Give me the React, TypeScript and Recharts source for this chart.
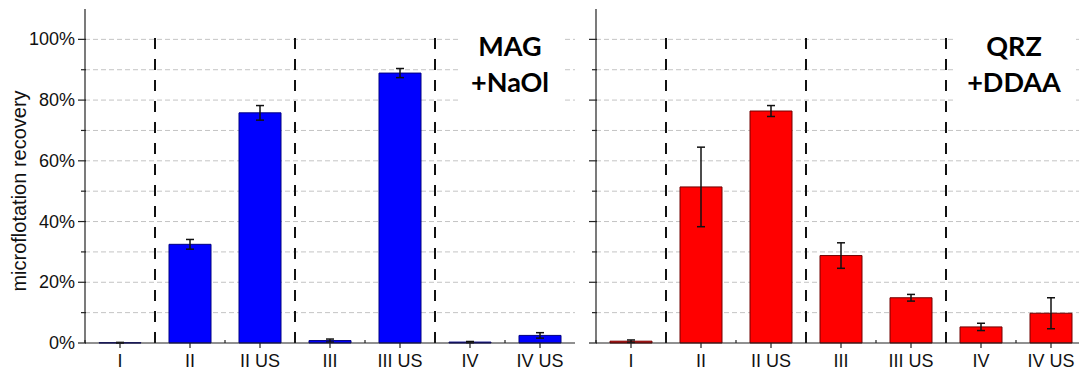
import { BarChart, Bar, XAxis, YAxis, CartesianGrid, ReferenceLine, ErrorBar } from "recharts";

const categories = ["I", "II", "II US", "III", "III US", "IV", "IV US"];

// MAG + NaOl (blue)
const magRecovery = [0.1, 32.5, 75.8, 0.8, 88.9, 0.3, 2.5];
const magError = [0.1, 1.6, 2.4, 0.5, 1.5, 0.2, 0.9];

// QRZ + DDAA (red)
const qrzRecovery = [0.6, 51.4, 76.4, 28.8, 14.9, 5.3, 9.8];
const qrzError = [0.4, 13.1, 1.8, 4.2, 1.1, 1.2, 5.1];

const yTicks = [0, 10, 20, 30, 40, 50, 60, 70, 80, 90, 100];
const gridValues = [10, 20, 30, 40, 50, 60, 70, 80, 90, 100];
const separators = ["II", "III", "IV"];

const FONT = '"Liberation Sans", Arial, sans-serif';
const AXIS = "#222";

function buildRows(values: number[], errors: number[]) {
  return categories.map((cat, i) => ({ cat, value: values[i], err: errors[i] }));
}

function BottomTick(props: any) {
  const { x, y, payload } = props;
  const half = payload.offset || 35;
  return (
    <g>
      <line x1={x} y1={y} x2={x} y2={y + 5} stroke={AXIS} strokeWidth={1.2} />
      <line x1={x - half} y1={y} x2={x - half} y2={y - 3} stroke={AXIS} strokeWidth={1.2} />
      <text x={x} y={y + 24} textAnchor="middle" fontSize={18} fontFamily={FONT} fill="#111">
        {payload.value}
      </text>
    </g>
  );
}

function TopTick(props: any) {
  const { x, y, payload } = props;
  const half = payload.offset || 35;
  return (
    <g>
      <line x1={x} y1={y} x2={x} y2={y + 6} stroke={AXIS} strokeWidth={1.2} />
      <line x1={x - half} y1={y} x2={x - half} y2={y + 3} stroke={AXIS} strokeWidth={1.2} />
    </g>
  );
}

function makeLeftTick(showLabel: boolean) {
  return (props: any) => {
    const { x, y, payload } = props;
    const major = payload.value % 20 === 0;
    return (
      <g>
        <line x1={x - (major ? 7 : 4)} y1={y} x2={x + 1} y2={y} stroke={AXIS} strokeWidth={1.2} />
        {showLabel && major && (
          <text x={x - 10} y={y} dy={6} textAnchor="end" fontSize={18} fontFamily={FONT} fill="#111">
            {payload.value}%
          </text>
        )}
      </g>
    );
  };
}

function RightTick(props: any) {
  const { x, y, payload } = props;
  const major = payload.value % 20 === 0;
  return <line x1={x - (major ? 7 : 4)} y1={y} x2={x} y2={y} stroke={AXIS} strokeWidth={1.2} />;
}

function AxisTitle() {
  return (
    <text
      transform="translate(19,191) rotate(-90)"
      textAnchor="middle"
      dominantBaseline="central"
      fontSize={20}
      fontFamily={FONT}
      fill="#111"
    >
      microflotation recovery
    </text>
  );
}

interface PanelProps {
  values: number[];
  errors: number[];
  fill: string;
  edge: string;
  yAxisWidth: number;
  width: number;
  rightMargin: number;
  showYLabels: boolean;
  showRightAxis: boolean;
}

function Panel({ values, errors, fill, edge, yAxisWidth, width, rightMargin, showYLabels, showRightAxis }: PanelProps) {
  const rows = buildRows(values, errors);
  return (
    <BarChart
      width={width}
      height={374}
      data={rows}
      margin={{ top: 9, right: rightMargin, bottom: 0, left: 0 }}
      barCategoryGap="20%"
    >
      <CartesianGrid vertical={false} horizontalValues={gridValues} stroke="#c4c4c4" strokeDasharray="5 3" />
      <XAxis
        dataKey="cat"
        height={31}
        axisLine={{ stroke: AXIS, strokeWidth: 1.2 }}
        tickLine={false}
        tickSize={0}
        tickMargin={0}
        interval={0}
        tick={BottomTick}
      />
      <XAxis
        xAxisId="top"
        dataKey="cat"
        orientation="top"
        height={0}
        axisLine={{ stroke: AXIS, strokeWidth: 1.2 }}
        tickLine={false}
        tickSize={0}
        tickMargin={0}
        interval={0}
        tick={TopTick}
      />
      <YAxis
        width={yAxisWidth}
        domain={[0, 110]}
        ticks={yTicks}
        interval={0}
        axisLine={{ stroke: AXIS, strokeWidth: 1.2 }}
        tickLine={false}
        tickSize={0}
        tickMargin={0}
        tick={makeLeftTick(showYLabels)}
        label={showYLabels ? <AxisTitle /> : undefined}
      />
      {showRightAxis && (
        <YAxis
          yAxisId="right"
          orientation="right"
          width={0}
          domain={[0, 110]}
          ticks={yTicks}
          interval={0}
          axisLine={{ stroke: AXIS, strokeWidth: 1.2 }}
          tickLine={false}
          tickSize={0}
          tickMargin={0}
          tick={RightTick}
        />
      )}
      {separators.map((c) => (
        <ReferenceLine
          key={c}
          segment={[
            { x: c, y: 0 },
            { x: c, y: 102 },
          ]}
          position="start"
          stroke="#111"
          strokeWidth={2}
          strokeDasharray="11 10"
        />
      ))}
      <Bar dataKey="value" fill={fill} stroke={edge} strokeWidth={1} isAnimationActive={false}>
        <ErrorBar dataKey="err" width={4} stroke="#111" strokeWidth={1.5} direction="y" isAnimationActive={false} />
      </Bar>
    </BarChart>
  );
}

const tagStyle: React.CSSProperties = {
  position: "absolute",
  background: "#fff",
  fontFamily: "Lato, 'Open Sans', sans-serif",
  fontWeight: 700,
  fontSize: 27,
  lineHeight: "36px",
  textAlign: "center",
  color: "#000",
};

export default function App() {
  return (
    <div style={{ position: "absolute", left: 0, top: 0, width: 1079, height: 374, overflow: "hidden", background: "#fff" }}>
      <div style={{ position: "absolute", left: 0, top: 0 }}>
        <Panel
          values={magRecovery}
          errors={magError}
          fill="#0000ff"
          edge="#000080"
          yAxisWidth={85}
          width={600}
          rightMargin={25}
          showYLabels
          showRightAxis
        />
      </div>
      <div style={{ position: "absolute", left: 576, top: 0, width: 503, height: 374, overflow: "hidden" }}>
        <Panel
          values={qrzRecovery}
          errors={qrzError}
          fill="#ff0000"
          edge="#700000"
          yAxisWidth={20}
          width={540}
          rightMargin={30}
          showYLabels={false}
          showRightAxis={false}
        />
      </div>
      <div style={{ ...tagStyle, left: 458, top: 28, width: 104, height: 76 }}>
        MAG
        <br />
        +NaOl
      </div>
      <div style={{ ...tagStyle, left: 953, top: 28, width: 122, height: 76 }}>
        QRZ
        <br />
        +DDAA
      </div>
    </div>
  );
}
